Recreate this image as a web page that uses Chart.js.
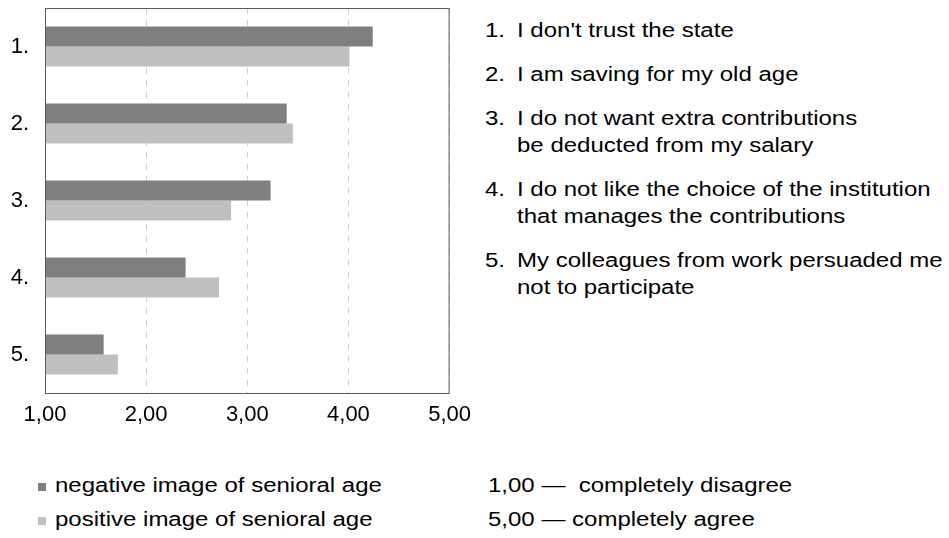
<!DOCTYPE html>
<html>
<head>
<meta charset="utf-8">
<script src="https://cdn.jsdelivr.net/npm/chart.js@4"></script>
<style>
  body { margin: 0; background: #fff; font-family: "Liberation Sans", Arial, sans-serif; color: #000; }
  #page { position: relative; width: 949px; height: 538px; overflow: hidden; }
  #graficoCanvas { position: absolute; left: 0; top: 0; }
  .wide { display: inline-block; transform: scaleX(1.2); transform-origin: 0 50%; white-space: nowrap; }
  #lista { position: absolute; left: 485px; top: 17px; font-size: 20px; line-height: 27px; transform: scaleX(1.2); transform-origin: 0 0; white-space: nowrap; }
  #lista .item { position: relative; padding-left: 26.7px; margin-bottom: 17px; }
  #lista .num { position: absolute; left: 0; top: 0; }
  .linha { position: absolute; height: 34px; line-height: 34px; font-size: 20px; }
  .quad { position: absolute; left: 0; top: 15px; width: 8px; height: 8px; }
</style>
</head>
<body>
<div id="page">
  <canvas id="graficoCanvas" width="480" height="440"></canvas>
  <div id="lista"></div>
  <div id="legenda"></div>
  <div id="escala"></div>
</div>
<script>
const categorias = ["1.", "2.", "3.", "4.", "5."];
const negativa = [4.24, 3.39, 3.23, 2.39, 1.58];
const positiva = [4.01, 3.45, 2.84, 2.72, 1.72];
const nomesSeries = ["negative image of senioral age", "positive image of senioral age"];
const coresSeries = ["#7f7f7f", "#bfbfbf"];
const ticksX = [1, 2, 3, 4, 5];

const afirmacoes = [
    ["I don't trust the state"],
    ["I am saving for my old age"],
    ["I do not want extra contributions", "be deducted from my salary"],
    ["I do not like the choice of the institution", "that manages the contributions"],
    ["My colleagues from work persuaded me", "not to participate"]
];

const escala = ["1,00 \u2014\u00a0\u00a0completely disagree", "5,00 \u2014 completely agree"];

// lista da direita
const lista = document.getElementById("lista");
afirmacoes.forEach((linhas, i) => {
    const div = document.createElement("div");
    div.className = "item";
    div.innerHTML = '<span class="num">' + (i + 1) + '.</span>' + linhas.join("<br>");
    lista.appendChild(div);
});

// legenda e escala em baixo
const legenda = document.getElementById("legenda");
nomesSeries.forEach((nome, i) => {
    const linha = document.createElement("div");
    linha.className = "linha";
    linha.style.left = "38px";
    linha.style.top = (468 + i * 34) + "px";
    linha.innerHTML = '<div class="quad" style="background:' + coresSeries[i] + '"></div>' +
        '<span class="wide" style="margin-left:17px">' + nome + '</span>';
    legenda.appendChild(linha);
});

const escalaDiv = document.getElementById("escala");
escala.forEach((txt, i) => {
    const linha = document.createElement("div");
    linha.className = "linha";
    linha.style.left = "488px";
    linha.style.top = (468 + i * 34) + "px";
    linha.innerHTML = '<span class="wide">' + txt + '</span>';
    escalaDiv.appendChild(linha);
});

// moldura em volta da área do gráfico
const moldura = {
    id: "moldura",
    afterDraw(chart) {
        const { ctx, chartArea } = chart;
        ctx.save();
        ctx.strokeStyle = "#5a5a5a";
        ctx.lineWidth = 1;
        ctx.strokeRect(chartArea.left + 0.5, chartArea.top + 0.5,
            chartArea.right - chartArea.left - 1, chartArea.bottom - chartArea.top);
        ctx.restore();
    }
};

const ctx = document.getElementById("graficoCanvas").getContext("2d");

new Chart(ctx, {
    type: "bar",
    data: {
        labels: categorias,
        datasets: [
            { label: nomesSeries[0], data: negativa, backgroundColor: coresSeries[0], base: 1 },
            { label: nomesSeries[1], data: positiva, backgroundColor: coresSeries[1], base: 1 }
        ]
    },
    options: {
        indexAxis: "y",
        responsive: false,
        animation: false,
        layout: { padding: { top: 8, right: 30, left: 0, bottom: 0 } },
        datasets: { bar: { categoryPercentage: 0.52, barPercentage: 1 } },
        plugins: {
            legend: { display: false },
            tooltip: { enabled: false }
        },
        scales: {
            x: {
                type: "linear",
                min: 1,
                max: 5,
                afterBuildTicks: axis => { axis.ticks = ticksX.map(v => ({ value: v })); },
                afterFit: axis => { axis.height = 47; },
                ticks: {
                    padding: 9,
                    color: "#000",
                    font: { family: "'Liberation Sans', Arial", size: 22 },
                    callback: v => v.toFixed(2).replace(".", ",")
                },
                grid: { color: "#cfcfcf", drawTicks: false },
                border: { display: false, dash: [6, 6] }
            },
            y: {
                afterFit: axis => {
                    axis.width = 45;
                    axis.paddingTop = 0;
                    axis.paddingBottom = 0;
                },
                ticks: {
                    padding: 16,
                    color: "#000",
                    font: { family: "'Liberation Sans', Arial", size: 22 }
                },
                grid: { display: false, drawTicks: false },
                border: { display: false }
            }
        }
    },
    plugins: [moldura]
});
</script>
</body>
</html>
